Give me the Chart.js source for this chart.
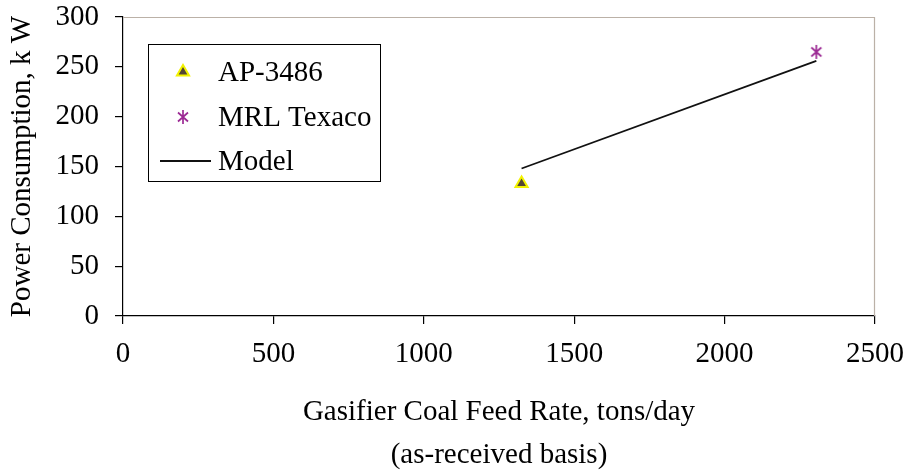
<!DOCTYPE html>
<html>
<head>
<meta charset="utf-8">
<script src="https://cdn.jsdelivr.net/npm/chart.js@4/dist/chart.umd.min.js"></script>
<style>
  html, body { margin: 0; padding: 0; background: #fff; }
  canvas { display: block; }
</style>
</head>
<body>
<canvas id="c" width="907" height="475"></canvas>
<script>
// Series labels and values
const seriesNames = ['AP-3486', 'MRL Texaco', 'Model'];
const apFeedRate = [1325];
const apPower = [133];
const mrlFeedRate = [2305];
const mrlPower = [265];
const modelFeedRate = [1325, 2305];
const modelPower = [148, 256];

// Axis text
const xTitleLines = ['Gasifier Coal Feed Rate, tons/day', '(as-received basis)'];
const yTitle = 'Power Consumption, k W';
const xMin = 0, xMax = 2500, xStep = 500;
const yMin = 0, yMax = 300, yStep = 50;

const SERIF = '"Liberation Serif", "Times New Roman", serif';
const FONT_SIZE = 29;
Chart.defaults.font.family = SERIF;
Chart.defaults.color = '#000';

const toPoints = (xs, ys) => xs.map((x, i) => ({ x, y: ys[i] }));

// Six-armed asterisk marker
function asterisk(color) {
  const c = document.createElement('canvas');
  c.width = 14; c.height = 18;
  const g = c.getContext('2d');
  g.strokeStyle = color;
  g.lineWidth = 1.7;
  g.beginPath();
  g.moveTo(7, 2); g.lineTo(7, 16);
  g.moveTo(2, 4.5); g.lineTo(12, 13.5);
  g.moveTo(12, 4.5); g.lineTo(2, 13.5);
  g.stroke();
  return c;
}
const starMarker = asterisk('#9c2a94');

// Light frame on the top and right of the plot area
const frame = {
  id: 'frame',
  beforeDatasetsDraw(chart) {
    const { ctx, chartArea: a } = chart;
    ctx.save();
    ctx.strokeStyle = '#bbb1a7';
    ctx.lineWidth = 1.2;
    ctx.beginPath();
    ctx.moveTo(a.left, a.top + 0.5);
    ctx.lineTo(a.right - 0.5, a.top + 0.5);
    ctx.lineTo(a.right - 0.5, a.bottom);
    ctx.stroke();
    ctx.restore();
  }
};

// Boxed legend inside the plot area
const boxLegend = {
  id: 'boxLegend',
  afterDraw(chart, args, opts) {
    const { ctx } = chart;
    const b = opts.box;
    ctx.save();
    ctx.fillStyle = '#fff';
    ctx.fillRect(b.x, b.y, b.w, b.h);
    ctx.strokeStyle = '#000';
    ctx.lineWidth = 1;
    ctx.strokeRect(b.x + 0.5, b.y + 0.5, b.w, b.h);
    ctx.font = FONT_SIZE + 'px ' + SERIF;
    ctx.textBaseline = 'middle';
    chart.data.datasets.forEach((ds, i) => {
      const y = opts.rows[i];
      if (ds.showLine) {
        ctx.strokeStyle = ds.borderColor;
        ctx.lineWidth = ds.borderWidth;
        ctx.beginPath();
        ctx.moveTo(b.x + 12, y);
        ctx.lineTo(b.x + 63, y);
        ctx.stroke();
      } else {
        ctx.fillStyle = ds.pointBackgroundColor;
        ctx.strokeStyle = ds.pointBorderColor;
        ctx.lineWidth = ds.pointBorderWidth;
        Chart.helpers.drawPoint(ctx, {
          pointStyle: ds.pointStyle, radius: ds.pointRadius, rotation: 0,
          borderWidth: ds.pointBorderWidth
        }, b.x + 35, y);
      }
      ctx.fillStyle = '#000';
      ctx.fillText(ds.label, b.x + 70, y + 1);
    });
    ctx.restore();
  }
};

new Chart(document.getElementById('c'), {
  type: 'scatter',
  data: {
    datasets: [
      {
        label: seriesNames[0],
        data: toPoints(apFeedRate, apPower),
        pointStyle: 'triangle',
        pointRadius: 7,
        pointBackgroundColor: '#544634',
        pointBorderColor: '#f2f200',
        pointBorderWidth: 2,
        showLine: false
      },
      {
        label: seriesNames[1],
        data: toPoints(mrlFeedRate, mrlPower),
        pointStyle: starMarker,
        pointRadius: 7,
        pointBackgroundColor: '#9c2a94',
        pointBorderColor: '#9c2a94',
        pointBorderWidth: 1,
        showLine: false
      },
      {
        label: seriesNames[2],
        data: toPoints(modelFeedRate, modelPower),
        showLine: true,
        borderColor: '#111',
        borderWidth: 1.8,
        pointRadius: 0,
        fill: false
      }
    ]
  },
  options: {
    responsive: false,
    animation: false,
    devicePixelRatio: 1,
    layout: { padding: { top: 17, right: 32, left: 0, bottom: 0 } },
    plugins: {
      legend: { display: false },
      tooltip: { enabled: false },
      boxLegend: { box: { x: 148, y: 44, w: 232, h: 137 }, rows: [72, 117, 161] }
    },
    scales: {
      x: {
        type: 'linear',
        min: xMin, max: xMax,
        ticks: {
          stepSize: xStep, padding: 13, color: '#000',
          font: { size: FONT_SIZE },
          format: { useGrouping: false }
        },
        grid: { drawOnChartArea: false, drawTicks: true, tickLength: 8, color: '#000', lineWidth: 1.2 },
        border: { display: true, color: '#000', width: 1.2 },
        title: {
          display: true, text: xTitleLines, color: '#000',
          font: { size: FONT_SIZE, lineHeight: '43px' }, padding: { top: 0, bottom: -2 }
        },
        afterFit(scale) {
          scale.height = 159;
          scale.paddingLeft = 0;
          scale.paddingRight = 0;
        }
      },
      y: {
        type: 'linear',
        min: yMin, max: yMax,
        ticks: { stepSize: yStep, padding: 16, color: '#000', font: { size: FONT_SIZE } },
        grid: { drawOnChartArea: false, drawTicks: true, tickLength: 8, color: '#000', lineWidth: 1.2 },
        border: { display: true, color: '#000', width: 1.2 },
        title: {
          display: true, text: yTitle, color: '#000',
          font: { size: FONT_SIZE }, padding: { top: 5, bottom: 0 }
        },
        afterFit(scale) {
          scale.width = 123;
          scale.paddingTop = 0;
          scale.paddingBottom = 0;
        }
      }
    }
  },
  plugins: [frame, boxLegend]
});
</script>
</body>
</html>
